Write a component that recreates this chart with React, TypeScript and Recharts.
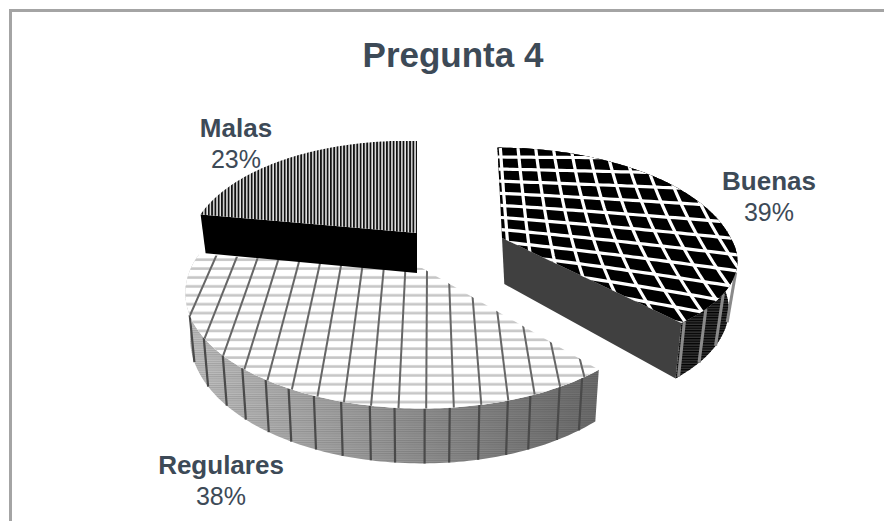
import { Pie, PieChart } from "recharts"

const categories = ["Buenas", "Regulares", "Malas"]
const shares = [39, 38, 23]
const pieData = categories.map((name, i) => ({ name, value: shares[i] }))

const WIDTH = 884
const HEIGHT = 521
const CX = 445
const CY = 250
const RADIUS = 231
const FONT = '"Liberation Sans", Arial, sans-serif'
const INK = "#3d4a57"

type Pt = { x: number; y: number }

// how each exploded slice sits on the tilted plane
const sliceForm: Record<string, any> = {
  Buenas: { dx: 57, dy: -12, scale: 0.99, ryBack: 110, ryFront: 92, skew: 0.05, tilt: 0, depth: 46, inward: 0.047 },
  Regulares: { dx: -23, dy: 18, scale: 1, ryBack: 110, ryFront: 110, skew: 0, tilt: 0, depth: 43, inward: 0.02 },
  Malas: { dx: -28, dy: -17, scale: 0.97, ryBack: 112, ryFront: 112, skew: 0, tilt: 0.023, depth: 40, inward: 0.023 },
}

const labelSpots: Record<string, { x: number; y: number; size: number }> = {
  Buenas: { x: 769, y: 190, size: 26 },
  Regulares: { x: 221, y: 474, size: 26 },
  Malas: { x: 236, y: 137, size: 26 },
}

const PERSPECTIVE = 0.217

function projector(cx: number, cy: number, r: number, form: any) {
  return (deg: number, rr = 1) => {
    const a = (deg * Math.PI) / 180
    const u = Math.cos(a) * rr
    const v = Math.sin(a) * rr
    const s = 1 / (1 + PERSPECTIVE * v)
    const ry = v > 0 ? form.ryBack : form.ryFront
    const y = -ry * v * s
    const x = r * u * s
    return { x: cx + x + form.skew * y, y: cy + y + form.tilt * x, s }
  }
}

const poly = (pts: Pt[]) => pts.map((p) => `${p.x.toFixed(1)},${p.y.toFixed(1)}`).join(" ")

function range(from: number, to: number) {
  const out: number[] = []
  for (let i = from; i <= to; i++) out.push(i)
  return out
}

// straight hatch lines running out of one vanishing point
function fanLines(vp: Pt, through: Pt[], stroke: string, width: number) {
  return through.map((p, i) => (
    <line
      key={i}
      x1={vp.x}
      y1={vp.y}
      x2={vp.x + (p.x - vp.x) * 4}
      y2={vp.y + (p.y - vp.y) * 4}
      stroke={stroke}
      strokeWidth={width}
    />
  ))
}

// the lattice on the top face bends a little towards the front corner
function latticeAcross(ox: number, oy: number) {
  return range(-1, 20).map((i) => {
    let x = ox - 7
    let y = oy - 81 + 12 * i
    const pts: Pt[] = [{ x, y }]
    while (x < ox + 245) {
      y += (0.006 + 0.0012 * (y - oy + 81)) * 6
      x += 6
      pts.push({ x, y })
    }
    return poly(pts)
  })
}

function latticeDown(ox: number, oy: number) {
  return range(-1, 13).map((i) => {
    let x = ox + 16 + 17.67 * i
    let y = oy - 90
    const pts: Pt[] = [{ x, y }]
    while (y < oy + 110) {
      const along = x - ox - 16
      const bend = Math.max(0, Math.min(1, along / 120))
      x += (0.1 + 0.0016 * along + 0.002 * (y - oy + 90) * bend) * 6
      y += 6
      pts.push({ x, y })
    }
    return poly(pts)
  })
}

// vertical ribs on the rim, where a hatch fan reaches the outer edge
function rimRibs(arc: Pt[], base: (p: Pt) => Pt, vp: Pt, thruY: number, x0: number, step: number, stroke: string, width: number) {
  const ribs: any[] = []
  const slot = (p: Pt) => Math.floor((vp.x + ((p.x - vp.x) / (p.y - vp.y)) * (thruY - vp.y) - x0) / step)
  for (let i = 1; i < arc.length; i++) {
    if (slot(arc[i]) !== slot(arc[i - 1])) {
      const b = base(arc[i])
      ribs.push(<line key={i} x1={arc[i].x} y1={arc[i].y} x2={b.x} y2={b.y} stroke={stroke} strokeWidth={width} />)
    }
  }
  return ribs
}

function TiltedSlice(props: any) {
  const { cx, cy, outerRadius, startAngle, endAngle, name } = props
  const form = sliceForm[name]
  const ox = cx + form.dx
  const oy = cy + form.dy
  const at = projector(ox, oy, outerRadius * form.scale, form)

  const arc: any[] = []
  const steps = 140
  for (let i = 0; i <= steps; i++) {
    arc.push(at(startAngle + ((endAngle - startAngle) * i) / steps))
  }
  const apex = { x: ox, y: oy, s: 1 }
  const drop = (p: any): Pt => ({
    x: ox + (p.x - ox) * (1 - form.inward) + form.skew * form.depth * p.s,
    y: p.y + form.depth * p.s,
  })
  const top = poly([apex, ...arc])
  const rim = poly([...arc, ...arc.map(drop).reverse()])
  const clipId = `top-${name}`

  if (name === "Buenas") {
    const vpB = { x: ox - 12, y: oy - 298 }
    const end = arc[arc.length - 1]
    return (
      <g>
        <polygon points={rim} fill="#363636" />
        <polygon points={rim} fill="url(#rimDark)" />
        {rimRibs(arc, drop, vpB, oy - 18, ox - 15, 21, "#8a8a8a", 3)}
        <polygon points={poly([apex, end, drop(end), drop(apex)])} fill="#404040" />
        <clipPath id={clipId}>
          <polygon points={top} />
        </clipPath>
        <polygon points={top} fill="#000000" />
        <g clipPath={`url(#${clipId})`} fill="none" stroke="#ffffff" strokeWidth={3.2}>
          {latticeAcross(ox, oy).map((pts, i) => (
            <polyline key={`a${i}`} points={pts} />
          ))}
          {latticeDown(ox, oy).map((pts, i) => (
            <polyline key={`d${i}`} points={pts} />
          ))}
        </g>
      </g>
    )
  }

  if (name === "Regulares") {
    const vp = { x: ox + 8, y: oy - 498 }
    const thru = range(-14, 12).map((i) => ({ x: ox + 5 + 21.7 * i, y: oy + 2 }))
    return (
      <g>
        <polygon points={rim} fill="url(#rimShade)" />
        <polygon points={rim} fill="url(#rimLines)" />
        {rimRibs(arc, drop, vp, oy + 2, ox + 5, 21.7, "#4a4a4a", 2.2)}
        <clipPath id={clipId}>
          <polygon points={top} />
        </clipPath>
        <polygon points={top} fill="#ffffff" />
        <polygon points={top} fill="url(#bands)" />
        <g clipPath={`url(#${clipId})`}>{fanLines(vp, thru, "#666666", 2)}</g>
      </g>
    )
  }

  const first = arc[0]
  return (
    <g>
      <polygon points={poly([first, apex, drop(apex), drop(first)])} fill="#000000" />
      <polygon points={top} fill="url(#stripes)" />
    </g>
  )
}

function SliceLabel(props: any) {
  const { name, percent } = props
  const spot = labelSpots[name]
  return (
    <text x={spot.x} y={spot.y} textAnchor="middle" fontFamily={FONT} fontSize={25} fill={INK}>
      <tspan x={spot.x} fontWeight="bold" fontSize={spot.size}>
        {name}
      </tspan>
      <tspan x={spot.x} dy={31}>
        {Math.round(percent * 100)}%
      </tspan>
    </text>
  )
}

export default function App() {
  return (
    <div style={{ position: "absolute", left: 0, top: 0, width: WIDTH, height: HEIGHT, background: "#fff", overflow: "hidden" }}>
      <div
        style={{
          position: "absolute",
          left: 9,
          top: 9,
          width: WIDTH,
          height: HEIGHT,
          borderTop: "3px solid #a4a4a4",
          borderLeft: "3px solid #a4a4a4",
        }}
      />
      <div
        style={{
          position: "absolute",
          left: 0,
          top: 35,
          width: 906,
          textAlign: "center",
          fontFamily: FONT,
          fontWeight: "bold",
          fontSize: 35,
          lineHeight: "40px",
          color: INK,
        }}
      >
        Pregunta 4
      </div>
      <div style={{ position: "absolute", left: 0, top: 0 }}>
        <PieChart width={WIDTH} height={HEIGHT} margin={{ top: 0, right: 0, bottom: 0, left: 0 }}>
          <defs>
            <pattern id="stripes" width="3.3" height="6" patternUnits="userSpaceOnUse">
              <rect width="3.3" height="6" fill="#e6e6e6" />
              <rect width="1.8" height="6" fill="#111111" />
            </pattern>
            <pattern id="bands" width="8" height="8.9" patternUnits="userSpaceOnUse">
              <rect y="0.3" width="8" height="2.6" fill="#c6c6c6" />
            </pattern>
            <pattern id="rimLines" width="6" height="2.2" patternUnits="userSpaceOnUse">
              <rect width="6" height="1" fill="#000000" fillOpacity="0.14" />
            </pattern>
            <pattern id="rimDark" width="6" height="2.6" patternUnits="userSpaceOnUse">
              <rect width="6" height="1.2" fill="#000000" />
            </pattern>
            <linearGradient id="rimShade" gradientUnits="userSpaceOnUse" x1="185" y1="0" x2="600" y2="0">
              <stop offset="0" stopColor="#c2c2c2" />
              <stop offset="0.5" stopColor="#989898" />
              <stop offset="1" stopColor="#6c6c6c" />
            </linearGradient>
          </defs>
          <Pie
            data={pieData}
            dataKey="value"
            nameKey="name"
            cx={CX}
            cy={CY}
            outerRadius={RADIUS}
            startAngle={90}
            endAngle={-270}
            stroke="none"
            isAnimationActive={false}
            shape={TiltedSlice}
            label={SliceLabel}
            labelLine={false}
          />
        </PieChart>
      </div>
    </div>
  )
}
